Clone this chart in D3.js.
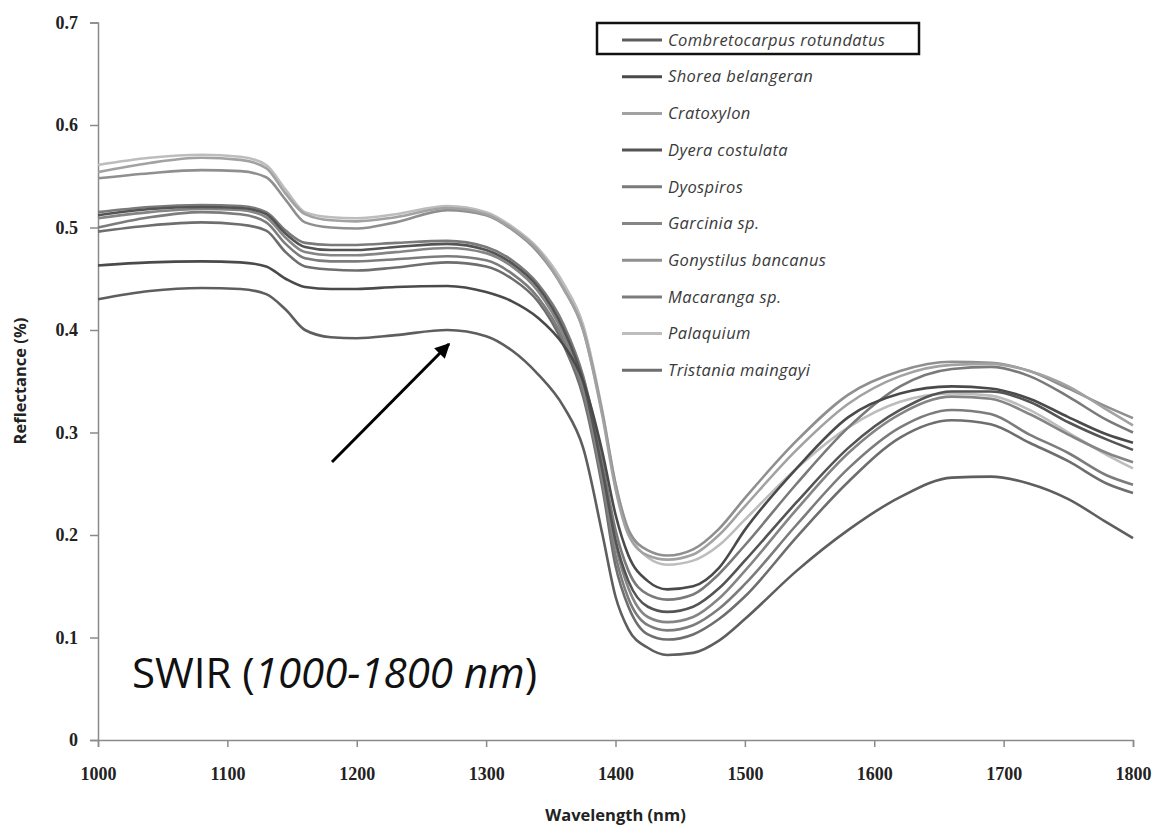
<!DOCTYPE html>
<html><head><meta charset="utf-8">
<script src="https://cdn.jsdelivr.net/npm/d3@7"></script>
<style>body{margin:0;background:#fff}</style>
</head><body><svg id="c" width="1159" height="827"></svg>
<script>
// ---- data ----
const wavelengths = [1000,1040,1080,1110,1130,1145,1160,1180,1200,1230,1270,1300,1320,1340,1360,1375,1390,1400,1410,1425,1440,1460,1480,1500,1540,1580,1620,1660,1690,1720,1750,1780,1800];
const xTickValues = [1000,1100,1200,1300,1400,1500,1600,1700,1800];
const yTickValues = [0,0.1,0.2,0.3,0.4,0.5,0.6,0.7];
const speciesNames = ["Combretocarpus rotundatus","Shorea belangeran","Cratoxylon","Dyera costulata","Dyospiros","Garcinia sp.","Gonystilus bancanus","Macaranga sp.","Palaquium","Tristania maingayi"];

const combretocarpus = [0.430,0.438,0.441,0.440,0.435,0.420,0.400,0.393,0.392,0.395,0.400,0.394,0.380,0.357,0.325,0.285,0.200,0.140,0.108,0.090,0.083,0.085,0.097,0.118,0.165,0.205,0.237,0.256,0.257,0.250,0.235,0.212,0.197];
const shorea = [0.463,0.466,0.467,0.466,0.462,0.450,0.442,0.440,0.440,0.442,0.443,0.437,0.428,0.412,0.385,0.350,0.280,0.220,0.180,0.155,0.147,0.150,0.168,0.205,0.265,0.315,0.338,0.345,0.343,0.333,0.315,0.298,0.290];
const cratoxylon = [0.554,0.563,0.568,0.566,0.558,0.533,0.513,0.507,0.506,0.510,0.519,0.513,0.499,0.478,0.440,0.400,0.315,0.245,0.200,0.180,0.176,0.181,0.200,0.228,0.283,0.328,0.355,0.366,0.367,0.360,0.345,0.322,0.307];
const dyera = [0.512,0.518,0.520,0.519,0.513,0.494,0.481,0.478,0.478,0.481,0.484,0.478,0.465,0.442,0.400,0.350,0.262,0.195,0.155,0.130,0.125,0.130,0.148,0.175,0.232,0.285,0.322,0.340,0.340,0.330,0.310,0.293,0.283];
const dyospiros = [0.515,0.520,0.522,0.521,0.515,0.497,0.485,0.483,0.483,0.485,0.487,0.481,0.468,0.445,0.405,0.355,0.270,0.205,0.165,0.142,0.137,0.142,0.162,0.190,0.250,0.305,0.345,0.362,0.364,0.355,0.335,0.312,0.300];
const garcinia = [0.509,0.515,0.518,0.517,0.510,0.490,0.476,0.473,0.473,0.476,0.480,0.475,0.462,0.438,0.395,0.345,0.255,0.190,0.148,0.120,0.115,0.120,0.138,0.165,0.225,0.280,0.318,0.335,0.333,0.318,0.298,0.280,0.271];
const gonystilus = [0.548,0.553,0.556,0.555,0.549,0.527,0.505,0.500,0.499,0.505,0.517,0.512,0.498,0.476,0.440,0.400,0.318,0.250,0.205,0.185,0.180,0.186,0.206,0.236,0.292,0.337,0.360,0.369,0.368,0.360,0.343,0.325,0.314];
const macaranga = [0.500,0.510,0.515,0.513,0.505,0.484,0.470,0.467,0.467,0.469,0.472,0.468,0.455,0.432,0.390,0.340,0.250,0.180,0.138,0.112,0.107,0.112,0.128,0.152,0.210,0.265,0.305,0.322,0.318,0.298,0.280,0.258,0.249];
const palaquium = [0.561,0.568,0.571,0.569,0.561,0.537,0.515,0.510,0.509,0.513,0.521,0.515,0.501,0.480,0.445,0.405,0.320,0.250,0.205,0.178,0.171,0.175,0.190,0.215,0.265,0.305,0.330,0.338,0.336,0.322,0.300,0.278,0.265];
const tristania = [0.496,0.502,0.505,0.503,0.497,0.476,0.462,0.459,0.458,0.461,0.466,0.462,0.450,0.428,0.385,0.335,0.245,0.170,0.130,0.103,0.098,0.103,0.118,0.140,0.198,0.252,0.295,0.312,0.308,0.290,0.272,0.250,0.241];

const seriesValues = [combretocarpus,shorea,cratoxylon,dyera,dyospiros,garcinia,gonystilus,macaranga,palaquium,tristania];
const seriesColors = ["#5e5e5e","#4a4a4a","#a2a2a2","#545454","#7a7a7a","#858585","#8f8f8f","#7c7c7c","#bdbdbd","#6e6e6e"];

// ---- layout ----
const W = 1159, H = 827;
const m = {left:98, right:26, top:22.5, bottom:87};
const svg = d3.select("#c");
const x = d3.scaleLinear().domain([1000,1800]).range([m.left, W - m.right]);
const y = d3.scaleLinear().domain([0,0.7]).range([H - m.bottom, m.top]);

// axes
const axisColor = "#8a8a8a";
const gx = svg.append("g").attr("transform",`translate(0,${H - m.bottom})`)
  .call(d3.axisBottom(x).tickValues(xTickValues).tickSize(7).tickPadding(20).tickFormat(d3.format("d")));
const gy = svg.append("g").attr("transform",`translate(${m.left},0)`)
  .call(d3.axisLeft(y).tickValues(yTickValues).tickSize(8).tickPadding(12).tickFormat(d => d === 0 ? "0" : d3.format(".1f")(d)));
[gx, gy].forEach(g => {
  g.select(".domain").attr("stroke", axisColor).attr("stroke-width", 1.5);
  g.selectAll(".tick line").attr("stroke", axisColor).attr("stroke-width", 1.5);
  g.selectAll(".tick text").attr("fill","#222").attr("font-family","'Liberation Serif', 'DejaVu Serif', serif")
    .attr("font-weight","bold").attr("font-size", 18);
});

// axis titles
svg.append("text").attr("x", (m.left + W - m.right)/2).attr("y", 821).attr("text-anchor","middle")
  .attr("font-family","'Open Sans', sans-serif").attr("font-weight","bold").attr("font-size",16.5).attr("fill","#222")
  .text("Wavelength (nm)");
svg.append("text").attr("transform","translate(26,381) rotate(-90)").attr("text-anchor","middle")
  .attr("font-family","'Open Sans', sans-serif").attr("font-weight","bold").attr("font-size",16.5).attr("fill","#222")
  .text("Reflectance (%)");

// lines
const line = d3.line().x((d,i) => x(wavelengths[i])).y(d => y(d)).curve(d3.curveMonotoneX);
const order = d3.range(seriesValues.length).reverse();
svg.append("g").selectAll("path").data(order).join("path")
  .attr("d", i => line(seriesValues[i]))
  .attr("fill","none").attr("stroke", i => seriesColors[i]).attr("stroke-width", 2.6).attr("stroke-linejoin","round");

// legend
const lg = svg.append("g");
const legendTop = 40, legendStep = 36.7;
speciesNames.forEach((name, i) => {
  const ly = legendTop + i * legendStep;
  lg.append("line").attr("x1",622).attr("x2",662).attr("y1",ly).attr("y2",ly)
    .attr("stroke", seriesColors[i]).attr("stroke-width",3);
  lg.append("text").attr("x",668).attr("y",ly).attr("dy","0.35em")
    .attr("font-family","'Open Sans', sans-serif").attr("font-style","italic").attr("font-size",16.5)
    .attr("letter-spacing","0.4px").attr("fill","#3a3a3a")
    .text(name);
});
lg.append("rect").attr("x",597).attr("y",23).attr("width",322).attr("height",31)
  .attr("fill","none").attr("stroke","#111").attr("stroke-width",2.5);

// arrow
const defs = svg.append("defs");
defs.append("marker").attr("id","ah").attr("viewBox","0 0 10 10").attr("refX",9).attr("refY",5)
  .attr("markerWidth",5).attr("markerHeight",5).attr("orient","auto")
  .append("path").attr("d","M0,0 L10,5 L0,10 z").attr("fill","#000");
svg.append("line").attr("x1",332).attr("y1",462).attr("x2",449).attr("y2",344)
  .attr("stroke","#000").attr("stroke-width",3).attr("marker-end","url(#ah)");

// annotation
const t = svg.append("text").attr("x",132).attr("y",688)
  .attr("font-family","'Open Sans', sans-serif").attr("font-size",42).attr("fill","#111");
t.append("tspan").text("SWIR (");
t.append("tspan").attr("font-style","italic").text("1000-1800 nm");
t.append("tspan").text(")");
</script></body></html>
